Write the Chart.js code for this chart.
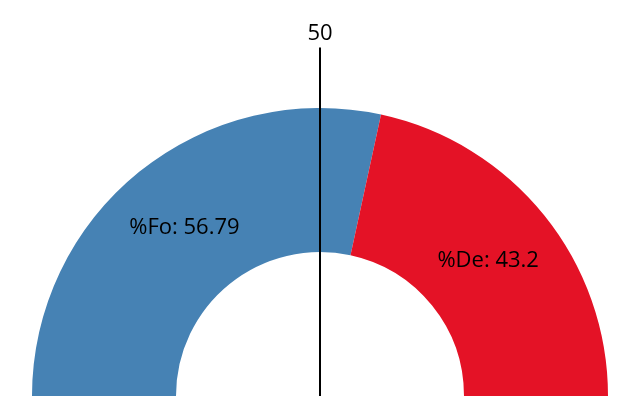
<!DOCTYPE html>
<html>
<head>
<meta charset="utf-8">
<script src="https://cdn.jsdelivr.net/npm/chart.js@4/dist/chart.umd.min.js"></script>
<style>
html,body{margin:0;padding:0;background:#fff;}
#wrap{width:640px;height:400px;}
</style>
</head>
<body>
<div id="wrap"><canvas id="c" width="640" height="400"></canvas></div>
<script>
const categories = ['%Fo', '%De'];
const values = [56.79, 43.2];
const colors = ['#4682B4', '#E41226'];
const markerValue = 50;
const markerLabel = '50';
const total = 100;

const FONT = '"Open Sans", "Noto Sans", sans-serif';

const overlay = {
  id: 'overlay',
  afterDatasetsDraw(chart) {
    const ctx = chart.ctx;
    const meta = chart.getDatasetMeta(0);
    const arc0 = meta.data[0];
    const cx = arc0.x, cy = arc0.y;
    const outer = arc0.outerRadius, inner = arc0.innerRadius;
    const mid = (outer + inner) / 2;
    ctx.save();
    ctx.font = '22px ' + FONT;
    ctx.fillStyle = '#000';
    ctx.textAlign = 'center';
    ctx.textBaseline = 'middle';
    meta.data.forEach((arc, i) => {
      const a = (arc.startAngle + arc.endAngle) / 2;
      ctx.fillText(categories[i] + ': ' + values[i], cx + mid * Math.cos(a), cy + mid * Math.sin(a));
    });
    // marker line
    const rot = chart.options.rotation * Math.PI / 180 - Math.PI / 2;
    const ang = rot + (markerValue / total) * Math.PI;
    const len = outer * 1.21;
    ctx.strokeStyle = '#000';
    ctx.lineWidth = 2;
    ctx.beginPath();
    ctx.moveTo(cx, cy);
    ctx.lineTo(cx + len * Math.cos(ang), cy + len * Math.sin(ang));
    ctx.stroke();
    ctx.font = '22px ' + FONT;
    ctx.textBaseline = 'alphabetic';
    ctx.fillText(markerLabel, cx + len * Math.cos(ang), cy + (len + 8) * Math.sin(ang));
    ctx.restore();
  }
};

new Chart(document.getElementById('c'), {
  type: 'doughnut',
  data: {
    labels: categories,
    datasets: [{
      data: values,
      backgroundColor: colors,
      borderWidth: 0
    }]
  },
  options: {
    responsive: false,
    animation: false,
    rotation: -90,
    circumference: 180,
    cutout: '50%',
    layout: { padding: { left: 32, right: 32, top: 108, bottom: 4 } },
    plugins: { legend: { display: false }, tooltip: { enabled: false } }
  },
  plugins: [overlay]
});
</script>
</body>
</html>
